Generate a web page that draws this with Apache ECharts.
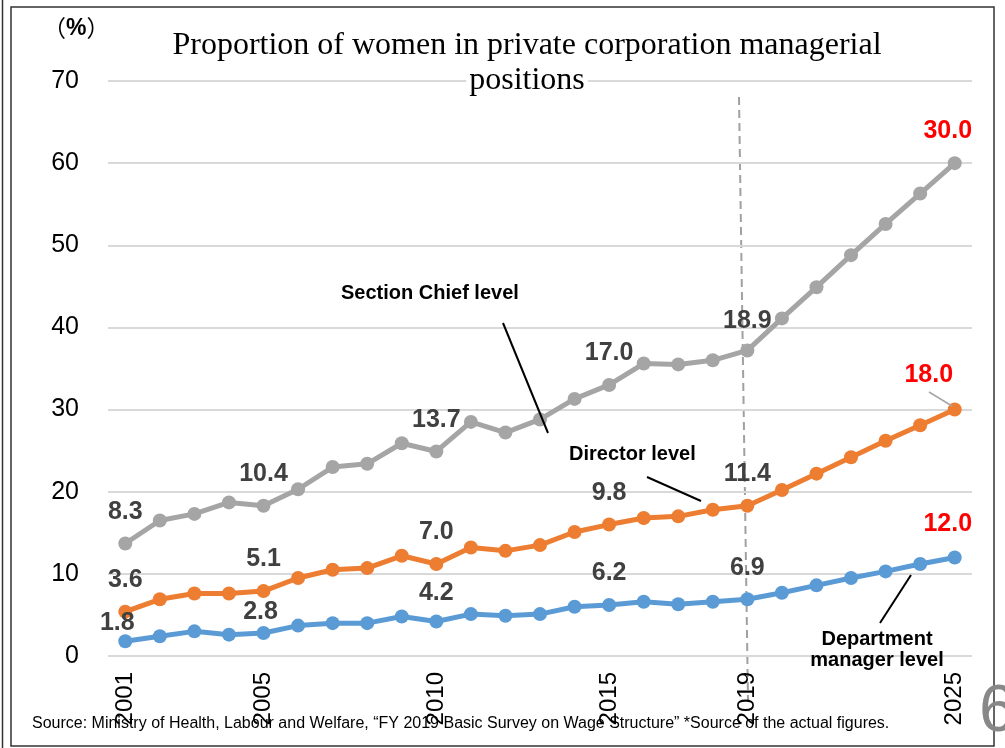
<!DOCTYPE html>
<html lang="en">
<head>
<meta charset="UTF-8">
<title>Women managers</title>
<style>
  * { margin: 0; }
  body { background: #fff; }
  #main { width: 1005px; height: 748px; }
</style>
<script src="https://cdn.jsdelivr.net/npm/echarts/dist/echarts.min.js"></script>
</head>
<body>
<div id="main"></div>
<script>
var years = ['2001', '2002', '2003', '2004', '2005', '2006', '2007', '2008', '2009', '2010', '2011', '2012', '2013',
    '2014', '2015', '2016', '2017', '2018', '2019', '2020', '2021', '2022', '2023', '2024', '2025'];
// values per level (lines are stacked, labels show own value)
var deptManager = [1.8, 2.4, 3.0, 2.6, 2.8, 3.7, 4.0, 4.0, 4.8, 4.2, 5.1, 4.9, 5.1,
    6.0, 6.2, 6.6, 6.3, 6.6, 6.9, 7.7, 8.6, 9.5, 10.3, 11.2, 12.0];
var director = [3.6, 4.5, 4.6, 5.0, 5.1, 5.8, 6.5, 6.7, 7.4, 7.0, 8.1, 7.9, 8.4,
    9.1, 9.8, 10.2, 10.7, 11.2, 11.4, 12.5, 13.6, 14.7, 15.9, 16.9, 18.0];
var sectionChief = [8.3, 9.6, 9.7, 11.1, 10.4, 10.8, 12.5, 12.7, 13.7, 13.7, 15.3, 14.4, 15.3,
    16.2, 17.0, 18.8, 18.5, 18.2, 18.9, 20.9, 22.7, 24.6, 26.4, 28.2, 30.0];
var labelYears = ['2001', '2005', '2010', '2015', '2019', '2025'];
var targetYear = '2025';
var yTicks = [0, 10, 20, 30, 40, 50, 60, 70];

var myChart = echarts.init(document.getElementById('main'));

function makeData(values, offsets) {
    return values.map(function (v, i) {
        var y = years[i];
        if (labelYears.indexOf(y) < 0) return v;
        var isTarget = y === targetYear;
        return {
            value: v,
            label: {
                show: true,
                position: 'top',
                distance: 12,
                offset: offsets[y] || [0, 0],
                color: isTarget ? '#ff0000' : '#404040',
                fontSize: 25,
                fontWeight: 'bold',
                fontFamily: 'Liberation Sans, Arial, sans-serif',
                formatter: function (p) { return p.value.toFixed(1); }
            }
        };
    });
}

function lineSeries(name, color, values, offsets, z) {
    return {
        name: name,
        type: 'line',
        stack: 'total',
        data: makeData(values, offsets),
        symbol: 'circle',
        symbolSize: 14,
        z: z,
        lineStyle: {color: color, width: 5},
        itemStyle: {color: color},
        emphasis: {disabled: true},
        animation: false
    };
}

var bold20 = {fontSize: 20, fontWeight: 'bold', fontFamily: 'Liberation Sans, Arial', fill: '#000'};

var option = {
    backgroundColor: '#fff',
    grid: {left: 108, right: 33, top: 81, bottom: 92},
    xAxis: {
        type: 'category',
        data: years,
        boundaryGap: true,
        axisLine: {show: false},
        axisTick: {show: false},
        axisLabel: {
            rotate: 90,
            margin: 16,
            fontSize: 24,
            color: '#000',
            fontFamily: 'Liberation Sans, Arial, sans-serif',
            interval: function (i, v) { return labelYears.indexOf(v) >= 0; }
        }
    },
    yAxis: {
        type: 'value',
        min: yTicks[0],
        max: yTicks[yTicks.length - 1],
        interval: 10,
        axisLine: {show: false},
        axisTick: {show: false},
        splitLine: {lineStyle: {color: '#d9d9d9', width: 2}},
        axisLabel: {
            margin: 29,
            fontSize: 25,
            color: '#000',
            fontFamily: 'Liberation Sans, Arial, sans-serif'
        }
    },
    series: [
        lineSeries('Department manager level', '#5b9bd5', deptManager,
            {'2001': [-8, 13], '2005': [-3, 11], '2010': [0, 3], '2025': [-7, -2]}, 3),
        lineSeries('Director level', '#ed7d31', director,
            {'2025': [-26, -3]}, 2),
        lineSeries('Section Chief level', '#a5a5a5', sectionChief,
            {'2019': [0, 2], '2025': [-7, -1]}, 1)
    ],
    graphic: [
        // frame
        {type: 'line', shape: {x1: 2.5, y1: 0, x2: 2.5, y2: 748}, style: {stroke: '#333', lineWidth: 1.5}},
        {type: 'rect', shape: {x: 11, y: 7, width: 983, height: 739}, style: {fill: null, stroke: '#333', lineWidth: 1.5}},
        {
            type: 'text', left: 43, top: 17,
            style: {
                text: '{p|（}{b|%}{p|）}',
                rich: {
                    p: {fontSize: 23, fontFamily: 'Noto Sans CJK JP', fill: '#000'},
                    b: {fontSize: 23, fontWeight: 'bold', fontFamily: 'Liberation Sans', fill: '#000'}
                }
            }
        },
        {
            type: 'text', x: 527, y: 46, z: 10,
            style: {
                text: 'Proportion of women in private corporation managerial',
                fontFamily: 'Liberation Serif, Times New Roman, serif',
                fontSize: 32, fill: '#000',
                textAlign: 'center', textVerticalAlign: 'middle'
            }
        },
        {
            type: 'text', x: 527, y: 81, z: 10,
            style: {
                text: 'positions',
                fontFamily: 'Liberation Serif, Times New Roman, serif',
                fontSize: 32, fill: '#000', backgroundColor: '#fff', padding: [0, 3],
                textAlign: 'center', textVerticalAlign: 'middle'
            }
        },
        // 2019 dashed marker
        {type: 'line', z: 0, shape: {x1: 739, y1: 97, x2: 748, y2: 700},
            style: {stroke: '#a0a0a0', lineWidth: 2, lineDash: [8, 5]}},
        // annotations
        {type: 'text', x: 341, y: 293, z: 10, style: Object.assign({text: 'Section Chief level', textVerticalAlign: 'middle'}, bold20)},
        {type: 'line', z: 10, shape: {x1: 503, y1: 323, x2: 548, y2: 433}, style: {stroke: '#000', lineWidth: 2}},
        {type: 'text', x: 569, y: 454, z: 10, style: Object.assign({text: 'Director level', textVerticalAlign: 'middle'}, bold20)},
        {type: 'line', z: 10, shape: {x1: 647, y1: 477, x2: 701, y2: 501}, style: {stroke: '#000', lineWidth: 2}},
        {type: 'text', x: 877, y: 650, z: 10, style: Object.assign({text: 'Department\nmanager level', lineHeight: 21,
            textAlign: 'center', textVerticalAlign: 'middle'}, bold20)},
        {type: 'line', z: 10, shape: {x1: 911, y1: 575, x2: 880, y2: 623}, style: {stroke: '#000', lineWidth: 2}},
        {type: 'line', z: 10, shape: {x1: 929, y1: 392, x2: 952, y2: 406}, style: {stroke: '#a5a5a5', lineWidth: 1.5}},
        // source
        {type: 'text', x: 32, y: 724, z: 10, style: {
            text: 'Source: Ministry of Health, Labour and Welfare, \u201cFY 2019 Basic Survey on Wage Structure\u201d *Source of the actual figures.',
            fontSize: 16, fontFamily: 'Liberation Sans, Arial', fill: '#000', textVerticalAlign: 'middle'}},
        // page number
        {type: 'text', x: 979, y: 713, z: 10, style: {text: '6', fontSize: 66, fontFamily: 'Liberation Sans, Arial',
            fill: '#888', textVerticalAlign: 'middle'}}
    ]
};

myChart.setOption(option);
</script>
</body>
</html>
